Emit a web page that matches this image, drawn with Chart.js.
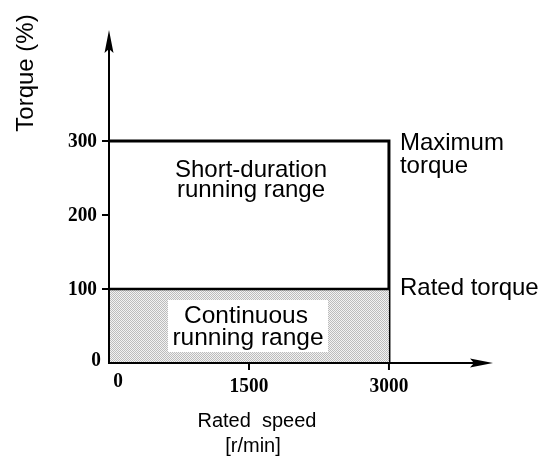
<!DOCTYPE html>
<html>
<head>
<meta charset="utf-8">
<script src="https://cdn.jsdelivr.net/npm/chart.js@4"></script>
<style>
body { margin: 0; background: #fff; }
#wrap { width: 545px; height: 457px; }
</style>
</head>
<body>
<div id="wrap"><canvas id="graph"></canvas></div>
<script>
// data
var speedTicks = [0, 1500, 3000];
var torqueTicks = [0, 100, 200, 300];
var ratedSpeed = [0, 3000];
var maxTorque = [300, 300];
var ratedTorque = [100, 100];
var yTitle = 'Torque (%)';
var xTitle = ['Rated  speed', '[r/min]'];

// fine dotted grey fill (screen tone)
function makePattern() {
    var c = document.createElement('canvas');
    c.width = 2; c.height = 2;
    var g = c.getContext('2d');
    g.fillStyle = '#f2f2f2';
    g.fillRect(0, 0, 2, 2);
    g.fillStyle = '#bcbcbc';
    g.fillRect(0, 0, 1, 1);
    g.fillRect(1, 1, 1, 1);
    return g.createPattern(c, 'repeat');
}

var sansFont = '"Liberation Sans", Arial, sans-serif';
var serifFont = 'bold 22px "Liberation Serif", "Times New Roman", serif';

// condensed bold numbers like the printed ticks
function numText(ctx, s, x, y, align) {
    ctx.save();
    ctx.translate(x, y);
    ctx.scale(0.88, 1);
    ctx.textAlign = align;
    ctx.fillText(s, 0, 0);
    ctx.restore();
}

var decor = {
    id: 'decor',
    afterDatasetsDraw: function(chart) {
        var ctx = chart.ctx;
        var xs = chart.scales.x, ys = chart.scales.y;
        var a = chart.chartArea;
        var x0 = xs.getPixelForValue(0), y0 = ys.getPixelForValue(0);
        ctx.save();
        ctx.strokeStyle = '#000';
        ctx.fillStyle = '#000';
        ctx.lineWidth = 2;
        // axes
        ctx.beginPath();
        ctx.moveTo(x0, y0 + 1);
        ctx.lineTo(x0, a.top + 14);
        ctx.moveTo(x0 - 1, y0);
        ctx.lineTo(a.right - 14, y0);
        ctx.stroke();
        // arrow heads
        ctx.beginPath();
        ctx.moveTo(x0, a.top);
        ctx.lineTo(x0 - 4.5, a.top + 23);
        ctx.lineTo(x0, a.top + 19);
        ctx.lineTo(x0 + 4.5, a.top + 23);
        ctx.closePath();
        ctx.fill();
        ctx.beginPath();
        ctx.moveTo(a.right, y0);
        ctx.lineTo(a.right - 23, y0 - 4.5);
        ctx.lineTo(a.right - 19, y0);
        ctx.lineTo(a.right - 23, y0 + 4.5);
        ctx.closePath();
        ctx.fill();

        // y ticks
        ctx.font = serifFont;
        ctx.textBaseline = 'middle';
        torqueTicks.forEach(function(t) {
            var y = ys.getPixelForValue(t);
            if (t > 0) {
                ctx.beginPath();
                ctx.moveTo(x0 - 7, y);
                ctx.lineTo(x0, y);
                ctx.stroke();
                numText(ctx, String(t), x0 - 12, y, 'right');
            } else {
                numText(ctx, String(t), x0 - 8, y - 3, 'right');
            }
        });
        // x ticks
        speedTicks.forEach(function(t) {
            var x = xs.getPixelForValue(t);
            if (t > 0) {
                ctx.beginPath();
                ctx.moveTo(x, y0);
                ctx.lineTo(x, y0 + 7);
                ctx.stroke();
                numText(ctx, String(t), x, y0 + 23, 'center');
            } else {
                numText(ctx, String(t), x + 9, y0 + 18, 'center');
            }
        });

        // region labels
        var xm = xs.getPixelForValue(1500);
        var y300 = ys.getPixelForValue(300), y100 = ys.getPixelForValue(100);
        ctx.textBaseline = 'alphabetic';
        ctx.textAlign = 'center';
        ctx.fillStyle = '#fff';
        ctx.fillRect(xm - 81, y100 + 11, 160, 52);
        ctx.fillStyle = '#000';
        ctx.font = '24.5px ' + sansFont;
        ctx.fillText('Continuous', xm - 3, y100 + 34);
        ctx.fillText('running range', xm - 1, y100 + 56);
        ctx.font = '24px ' + sansFont;
        ctx.fillText('Short-duration', xm + 2, y300 + 36);
        ctx.fillText('running range', xm + 2, y300 + 56);

        var xr = xs.getPixelForValue(3000) + 11;
        ctx.textAlign = 'left';
        ctx.fillText('Maximum', xr, y300 + 9);
        ctx.fillText('torque', xr, y300 + 32);
        ctx.fillText('Rated torque', xr, y100 + 6);

        // axis titles
        ctx.textAlign = 'center';
        ctx.font = '20px ' + sansFont;
        ctx.fillText(xTitle[0], xm + 8, y0 + 64);
        ctx.fillText(xTitle[1], xm + 4, y0 + 89);
        ctx.translate(33, 73);
        ctx.rotate(-Math.PI / 2);
        ctx.font = '24px ' + sansFont;
        ctx.fillText(yTitle, 0, 0);
        ctx.restore();
    }
};

var myChart = document.getElementById('graph').getContext('2d');
var pattern = makePattern();

function pts(xv, yv) {
    return xv.map(function(x, i) { return { x: x, y: yv[i] }; });
}

var chart = new Chart(myChart, {
    type: 'scatter',
    data: {
        datasets: [{
            label: 'Rated torque',
            data: pts(ratedSpeed, ratedTorque),
            showLine: true,
            borderColor: '#000',
            borderWidth: 2.5,
            backgroundColor: pattern,
            fill: 'origin',
            pointRadius: 0,
        }, {
            label: 'Maximum torque',
            data: pts(ratedSpeed, maxTorque).concat([{ x: 3000, y: 0 }]),
            showLine: true,
            borderColor: '#000',
            borderWidth: 3,
            fill: false,
            pointRadius: 0,
        }],
    },
    options: {
        responsive: true,
        maintainAspectRatio: false,
        animation: false,
        layout: { padding: { left: 109, right: 52, top: 30, bottom: 94 } },
        plugins: { legend: { display: false }, tooltip: { enabled: false } },
        scales: {
            x: { type: 'linear', min: 0, max: 4115, display: false },
            y: { type: 'linear', min: 0, max: 450, display: false },
        },
    },
    plugins: [decor],
});
</script>
</body>
</html>
